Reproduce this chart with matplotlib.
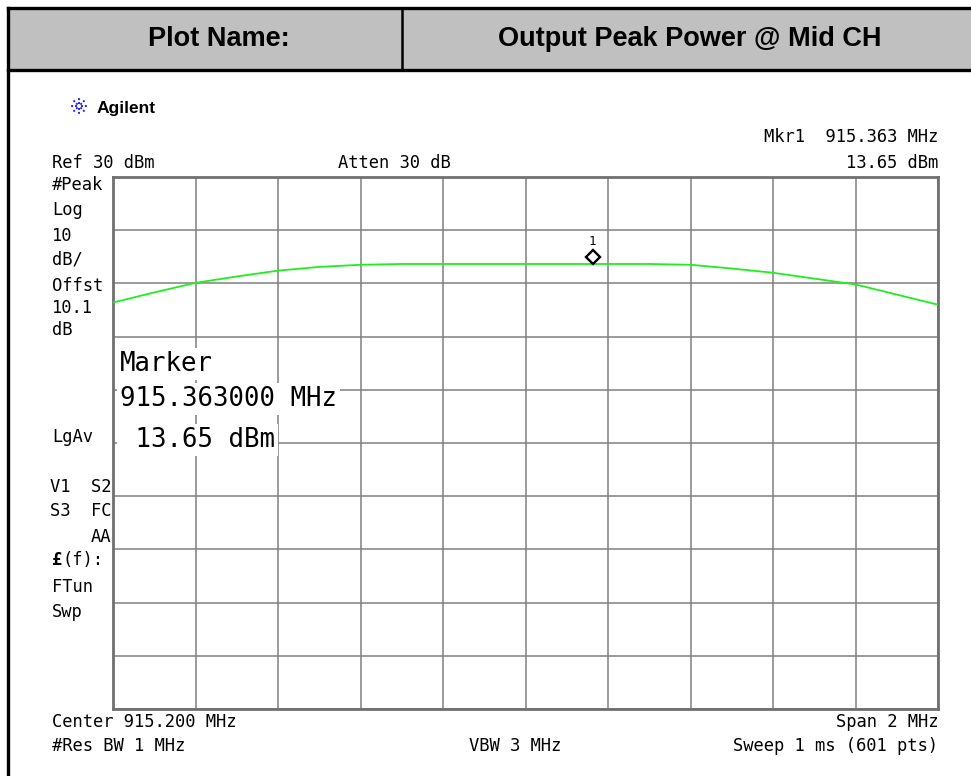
import matplotlib
matplotlib.use("Agg")
import matplotlib.pyplot as plt
from matplotlib.lines import Line2D
from matplotlib.patches import Rectangle
import matplotlib.transforms as mtransforms
import numpy as np

# ---- data ----
freq_mhz = [914.2, 914.3, 914.4, 914.5, 914.6, 914.7, 914.8, 914.9, 915.0,
            915.1, 915.2, 915.3, 915.4, 915.5, 915.6, 915.7, 915.8, 915.9,
            916.0, 916.1, 916.2]
level_dbm = [6.4, 8.3, 10.1, 11.3, 12.4, 13.1, 13.5, 13.65, 13.65,
             13.65, 13.65, 13.65, 13.65, 13.65, 13.5, 12.8, 12.0, 10.9,
             9.8, 7.9, 6.0]
marker_freq = 915.363
marker_level = 13.65
ref_level = 30
db_per_div = 10
center_mhz = 915.2
span_mhz = 2.0

W, H = 971, 776
fig = plt.figure(figsize=(W / 100, H / 100), dpi=100)
fig.patch.set_facecolor("white")

def fx(x):
    return x / W

def fy(y):
    return 1 - y / H

# ---- header table ----
fig.patches.append(Rectangle((fx(8), fy(70)), fx(W) - fx(8), fy(8) - fy(70),
                             transform=fig.transFigure, facecolor="#c0c0c0",
                             edgecolor="none", zorder=0))
for (x0, y0, x1, y1, lw) in [(8, 8, W, 8, 2.4), (8, 70, W, 70, 2.4),
                             (8, 8, 8, H, 2.4), (402, 8, 402, 70, 1.8)]:
    fig.lines.append(Line2D([fx(x0), fx(x1)], [fy(y0), fy(y1)],
                            transform=fig.transFigure, color="black", lw=lw))

hdr_font = dict(family="Liberation Sans", weight="bold", fontsize=19.5,
                va="center", ha="center")
fig.text(fx(219), fy(39), "Plot Name:", **hdr_font)
fig.text(fx(690), fy(39), "Output Peak Power @ Mid CH", **hdr_font)

# ---- Agilent logo ----
cx, cy = 79, 106
for ang in np.arange(0, 360, 45):
    a = np.deg2rad(ang)
    fig.lines.append(Line2D([fx(cx + 2 * np.cos(a)), fx(cx + 9 * np.cos(a))],
                            [fy(cy + 2 * np.sin(a)), fy(cy + 9 * np.sin(a))],
                            transform=fig.transFigure, color="#2020ff",
                            lw=1.4, linestyle=(0, (1, 1))))
fig.text(fx(97), fy(108), "Agilent", family="Liberation Sans", weight="bold",
         fontsize=12.5, va="center", ha="left")

# ---- analyzer axes ----
L, R, T, B = 113, 938, 177, 709
ax = fig.add_axes([fx(L), fy(B), fx(R) - fx(L), fy(T) - fy(B)])
xmin, xmax = center_mhz - span_mhz / 2, center_mhz + span_mhz / 2
ymax = ref_level
ymin = ref_level - 10 * db_per_div
ax.set_xlim(xmin, xmax)
ax.set_ylim(ymin, ymax)
ax.set_xticks(np.linspace(xmin, xmax, 11))
ax.set_yticks(np.linspace(ymin, ymax, 11))
ax.tick_params(length=0, labelleft=False, labelbottom=False)
ax.grid(True, color="#808080", lw=1.1)
ax.set_axisbelow(True)
for s in ax.spines.values():
    s.set_color("#707070")
    s.set_linewidth(2.0)

ax.plot(freq_mhz, level_dbm, color="#1ef01e", lw=1.3, zorder=3)

off = mtransforms.offset_copy(ax.transData, fig=fig, x=0, y=7, units="dots")
ax.plot([marker_freq], [marker_level], marker="D", ms=7.5, mfc="white",
        mec="black", mew=1.7, transform=off, zorder=5, clip_on=False)
off2 = mtransforms.offset_copy(ax.transData, fig=fig, x=0, y=22, units="dots")
ax.text(marker_freq, marker_level, "1", transform=off2, ha="center",
        va="center", family="DejaVu Sans Mono", fontsize=9, zorder=5)

# ---- analyzer annotations ----
mono = dict(family="DejaVu Sans Mono", fontsize=12.3, va="center")
fig.text(fx(938), fy(137), "Mkr1  915.363 MHz", ha="right", **mono)
fig.text(fx(938), fy(163), "13.65 dBm", ha="right", **mono)
fig.text(fx(52), fy(163), "Ref 30 dBm", ha="left", **mono)
fig.text(fx(338), fy(163), "Atten 30 dB", ha="left", **mono)

left_labels = [("#Peak", 185), ("Log", 210), ("10", 236), ("dB/", 260),
               ("Offst", 286), ("10.1", 308), ("dB", 330), ("LgAv", 437),
               ("FTun", 587), ("Swp", 612)]
for txt, y in left_labels:
    fig.text(fx(52), fy(y), txt, ha="left", **mono)
for txt, y in [("V1  S2", 487), ("S3  FC", 511), ("AA", 537)]:
    fig.text(fx(111), fy(y), txt, ha="right", **mono)
fig.text(fx(52), fy(560), "£", ha="left", weight="bold", **mono)
fig.text(fx(62), fy(560), "(f):", ha="left", **mono)

fig.text(fx(52), fy(722), "Center 915.200 MHz", ha="left", **mono)
fig.text(fx(938), fy(722), "Span 2 MHz", ha="right", **mono)
fig.text(fx(52), fy(746), "#Res BW 1 MHz", ha="left", **mono)
fig.text(fx(515), fy(746), "VBW 3 MHz", ha="center", **mono)
fig.text(fx(938), fy(746), "Sweep 1 ms (601 pts)", ha="right", **mono)

big = dict(family="DejaVu Sans Mono", fontsize=18.5, va="center", ha="left",
           zorder=10, bbox=dict(facecolor="white", edgecolor="none", pad=2))
fig.text(fx(120), fy(364), "Marker", **big)
fig.text(fx(120), fy(399), "915.363000 MHz", **big)
fig.text(fx(120), fy(440), " 13.65 dBm", **big)

fig.savefig("out.png", dpi=100, facecolor="white")
